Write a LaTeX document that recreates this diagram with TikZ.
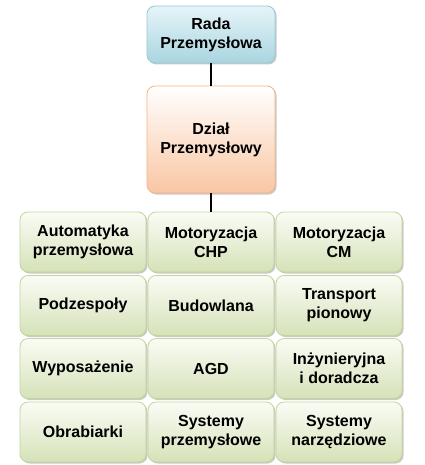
\documentclass[tikz,border=0pt]{standalone}
\usepackage{fontspec}
\setmainfont{Liberation Sans}
\usetikzlibrary{shadows}
\definecolor{blueT}{HTML}{E6F4F8}
\definecolor{blueB}{HTML}{A9D5E1}
\definecolor{blueD}{HTML}{96C9D6}
\definecolor{peachT}{HTML}{FFFFFF}
\definecolor{peachB}{HTML}{F9C6A3}
\definecolor{peachD}{HTML}{F6B383}
\definecolor{greenT}{HTML}{FAFCF5}
\definecolor{greenB}{HTML}{D5E2B8}
\definecolor{greenD}{HTML}{C2D59A}
\tikzset{
  box/.style={rounded corners=8pt, align=center, font=\fontsize{16}{19}\selectfont\bfseries,
    text=black, drop shadow={shadow xshift=1.5pt, shadow yshift=-1.5pt, opacity=0.35, fill=black!60},
    line width=0.8pt, inner sep=2pt},
  bluebox/.style={box, draw=blueD, top color=blueT, bottom color=blueB, minimum width=128pt, minimum height=57pt},
  peachbox/.style={box, draw=peachD, top color=peachT, bottom color=peachB, minimum width=128pt, minimum height=107pt},
  greenbox/.style={box, draw=greenD, top color=greenT, bottom color=greenB, minimum width=126pt, minimum height=60pt},
  link/.style={line width=1.6pt, black}
}
\begin{document}
\begin{tikzpicture}[x=1pt,y=1pt]
\useasboundingbox[fill=white] (0,0) rectangle (424,-465);
\node[bluebox] (rada) at (211,-34.5) {Rada\\Przemysłowa};
\node[peachbox] (dzial) at (211,-139.5) {Dział\\Przemysłowy};
\node[greenbox] (a1) at (83,-242) {Automatyka\\przemysłowa};
\node[greenbox] (a2) at (211,-242) {Motoryzacja\\CHP};
\node[greenbox] (a3) at (339,-242) {Motoryzacja\\CM};
\node[greenbox] (b1) at (83,-305.5) {Podzespoły};
\node[greenbox] (b2) at (211,-305.5) {Budowlana};
\node[greenbox] (b3) at (339,-305.5) {Transport\\pionowy};
\node[greenbox] (c1) at (83,-368.5) {Wyposażenie};
\node[greenbox] (c2) at (211,-368.5) {AGD};
\node[greenbox] (c3) at (339,-368.5) {Inżynieryjna\\i doradcza};
\node[greenbox] (d1) at (83,-432) {Obrabiarki};
\node[greenbox] (d2) at (211,-432) {Systemy\\przemysłowe};
\node[greenbox] (d3) at (339,-432) {Systemy\\narzędziowe};
\draw[link] (rada.south) -- (dzial.north);
\draw[link] (dzial.south) -- (a2.north);
\end{tikzpicture}
\end{document}
